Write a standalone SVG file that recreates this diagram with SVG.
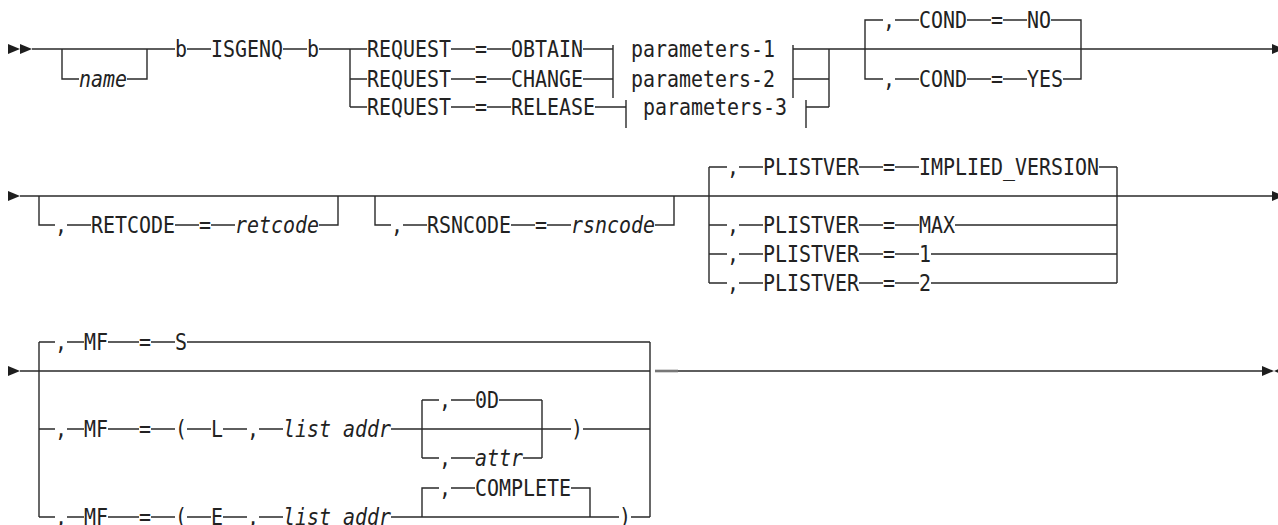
<svg xmlns="http://www.w3.org/2000/svg" width="1278" height="525" viewBox="0 0 1278 525">
<style>
.t{font-family:"DejaVu Sans Mono","Liberation Mono",monospace;font-size:22.5px;fill:#222}
.i{font-style:italic}
.c path{fill:none;stroke:#2a2a2a;stroke-width:1.4}
.a{fill:#1e1e1e}
</style>
<rect width="1278" height="525" fill="#fff"/>
<g id="connectors" class="c">
<path d="M32,49 H175 M62,49 V79 H79 M127,79 H147 V49 M187,49 H211 M283,49 H307 M319,49 H367 M350,49 V107 M350,79 H367 M350,107 H367"/>
<path d="M451,49 H475 M487,49 H511 M583,49 H613 M451,79 H475 M487,79 H511 M583,79 H613 M451,107 H475 M487,107 H511 M595,107 H626"/>
<path d="M613,45 V98 M626,100 V128 M793,45 V98 M806,100 V128"/>
<path d="M793,49 H1272 M793,79 H829 M806,107 H829 M829,49 V107"/>
<path d="M865,49 V20 H883 M895,20 H919 M967,20 H991 M1003,20 H1027 M1051,20 H1081 V79 H1063 M865,49 V79 H883 M895,79 H919 M967,79 H991 M1003,79 H1027"/>
<path d="M20,196 H1272"/>
<path d="M39,196 V225 H55 M67,225 H91 M175,225 H199 M211,225 H235 M319,225 H338 V196"/>
<path d="M375,196 V225 H391 M403,225 H427 M511,225 H535 M547,225 H571 M655,225 H674 V196"/>
<path d="M709,167 V283 M1117,167 V283 M709,167 H727 M739,167 H763 M859,167 H883 M895,167 H919 M1099,167 H1117 M709,225 H727 M739,225 H763 M859,225 H883 M895,225 H919 M955,225 H1117 M709,254 H727 M739,254 H763 M859,254 H883 M895,254 H919 M931,254 H1117 M709,283 H727 M739,283 H763 M859,283 H883 M895,283 H919 M931,283 H1117"/>
<path d="M20,371 H650 M655,371 H1262"/>
<path d="M655,371 H678" style="stroke:#777;stroke-width:2.6"/>
<path d="M39,342 V517 M650,342 V517"/>
<path d="M39,342 H55 M67,342 H84 M108,342 H139 M151,342 H175 M187,342 H650"/>
<path d="M39,429 H55 M67,429 H84 M108,429 H139 M151,429 H175 M187,429 H211 M223,429 H247 M259,429 H283 M391,429 H571 M583,429 H650"/>
<path d="M422,400 V458 M542,400 V458 M422,400 H439 M451,400 H475 M499,400 H542 M422,458 H439 M451,458 H475 M523,458 H542"/>
<path d="M39,517 H55 M67,517 H84 M108,517 H139 M151,517 H175 M187,517 H211 M223,517 H247 M259,517 H283 M391,517 H619 M631,517 H650"/>
<path d="M422,517 V488 H439 M451,488 H475 M571,488 H590 V517"/>
</g>
<g id="arrows" class="a">
<polygon points="8,44 20,49 8,54"/>
<polygon points="20,44 32,49 20,54"/>
<polygon points="1272,44 1284,49 1272,54"/>
<polygon points="8,191 20,196 8,201"/>
<polygon points="1272,191 1284,196 1272,201"/>
<polygon points="8,366 20,371 8,376"/>
<polygon points="1262,366 1274,371 1262,376"/>
<polygon points="1286,366 1274,371 1286,376"/>
</g>
<g id="name"><text class="t i" x="79" y="87" textLength="48" lengthAdjust="spacingAndGlyphs">name</text></g>
<g id="b1"><text class="t" x="175" y="57" textLength="12" lengthAdjust="spacingAndGlyphs">b</text></g>
<g id="isgenq"><text class="t" x="211" y="57" textLength="72" lengthAdjust="spacingAndGlyphs">ISGENQ</text></g>
<g id="b2"><text class="t" x="307" y="57" textLength="12" lengthAdjust="spacingAndGlyphs">b</text></g>
<g id="req-obtain"><text class="t" x="367" y="57" textLength="84" lengthAdjust="spacingAndGlyphs">REQUEST</text><text class="t" x="475" y="57" textLength="12" lengthAdjust="spacingAndGlyphs">=</text><text class="t" x="511" y="57" textLength="72" lengthAdjust="spacingAndGlyphs">OBTAIN</text></g>
<g id="req-change"><text class="t" x="367" y="87" textLength="84" lengthAdjust="spacingAndGlyphs">REQUEST</text><text class="t" x="475" y="87" textLength="12" lengthAdjust="spacingAndGlyphs">=</text><text class="t" x="511" y="87" textLength="72" lengthAdjust="spacingAndGlyphs">CHANGE</text></g>
<g id="req-release"><text class="t" x="367" y="115" textLength="84" lengthAdjust="spacingAndGlyphs">REQUEST</text><text class="t" x="475" y="115" textLength="12" lengthAdjust="spacingAndGlyphs">=</text><text class="t" x="511" y="115" textLength="84" lengthAdjust="spacingAndGlyphs">RELEASE</text></g>
<g id="params1"><text class="t" x="631" y="57" textLength="144" lengthAdjust="spacingAndGlyphs">parameters-1</text></g>
<g id="params2"><text class="t" x="631" y="87" textLength="144" lengthAdjust="spacingAndGlyphs">parameters-2</text></g>
<g id="params3"><text class="t" x="643" y="115" textLength="144" lengthAdjust="spacingAndGlyphs">parameters-3</text></g>
<g id="cond-no"><text class="t" x="883" y="28" textLength="12" lengthAdjust="spacingAndGlyphs">,</text><text class="t" x="919" y="28" textLength="48" lengthAdjust="spacingAndGlyphs">COND</text><text class="t" x="991" y="28" textLength="12" lengthAdjust="spacingAndGlyphs">=</text><text class="t" x="1027" y="28" textLength="24" lengthAdjust="spacingAndGlyphs">NO</text></g>
<g id="cond-yes"><text class="t" x="883" y="87" textLength="12" lengthAdjust="spacingAndGlyphs">,</text><text class="t" x="919" y="87" textLength="48" lengthAdjust="spacingAndGlyphs">COND</text><text class="t" x="991" y="87" textLength="12" lengthAdjust="spacingAndGlyphs">=</text><text class="t" x="1027" y="87" textLength="36" lengthAdjust="spacingAndGlyphs">YES</text></g>
<g id="retcode"><text class="t" x="55" y="233" textLength="12" lengthAdjust="spacingAndGlyphs">,</text><text class="t" x="91" y="233" textLength="84" lengthAdjust="spacingAndGlyphs">RETCODE</text><text class="t" x="199" y="233" textLength="12" lengthAdjust="spacingAndGlyphs">=</text><text class="t i" x="235" y="233" textLength="84" lengthAdjust="spacingAndGlyphs">retcode</text></g>
<g id="rsncode"><text class="t" x="391" y="233" textLength="12" lengthAdjust="spacingAndGlyphs">,</text><text class="t" x="427" y="233" textLength="84" lengthAdjust="spacingAndGlyphs">RSNCODE</text><text class="t" x="535" y="233" textLength="12" lengthAdjust="spacingAndGlyphs">=</text><text class="t i" x="571" y="233" textLength="84" lengthAdjust="spacingAndGlyphs">rsncode</text></g>
<g id="plv-implied"><text class="t" x="727" y="175" textLength="12" lengthAdjust="spacingAndGlyphs">,</text><text class="t" x="763" y="175" textLength="96" lengthAdjust="spacingAndGlyphs">PLISTVER</text><text class="t" x="883" y="175" textLength="12" lengthAdjust="spacingAndGlyphs">=</text><text class="t" x="919" y="175" textLength="180" lengthAdjust="spacingAndGlyphs">IMPLIED_VERSION</text></g>
<g id="plv-max"><text class="t" x="727" y="233" textLength="12" lengthAdjust="spacingAndGlyphs">,</text><text class="t" x="763" y="233" textLength="96" lengthAdjust="spacingAndGlyphs">PLISTVER</text><text class="t" x="883" y="233" textLength="12" lengthAdjust="spacingAndGlyphs">=</text><text class="t" x="919" y="233" textLength="36" lengthAdjust="spacingAndGlyphs">MAX</text></g>
<g id="plv-1"><text class="t" x="727" y="262" textLength="12" lengthAdjust="spacingAndGlyphs">,</text><text class="t" x="763" y="262" textLength="96" lengthAdjust="spacingAndGlyphs">PLISTVER</text><text class="t" x="883" y="262" textLength="12" lengthAdjust="spacingAndGlyphs">=</text><text class="t" x="919" y="262" textLength="12" lengthAdjust="spacingAndGlyphs">1</text></g>
<g id="plv-2"><text class="t" x="727" y="291" textLength="12" lengthAdjust="spacingAndGlyphs">,</text><text class="t" x="763" y="291" textLength="96" lengthAdjust="spacingAndGlyphs">PLISTVER</text><text class="t" x="883" y="291" textLength="12" lengthAdjust="spacingAndGlyphs">=</text><text class="t" x="919" y="291" textLength="12" lengthAdjust="spacingAndGlyphs">2</text></g>
<g id="mf-s"><text class="t" x="55" y="350" textLength="12" lengthAdjust="spacingAndGlyphs">,</text><text class="t" x="84" y="350" textLength="24" lengthAdjust="spacingAndGlyphs">MF</text><text class="t" x="139" y="350" textLength="12" lengthAdjust="spacingAndGlyphs">=</text><text class="t" x="175" y="350" textLength="12" lengthAdjust="spacingAndGlyphs">S</text></g>
<g id="mf-l"><text class="t" x="55" y="437" textLength="12" lengthAdjust="spacingAndGlyphs">,</text><text class="t" x="84" y="437" textLength="24" lengthAdjust="spacingAndGlyphs">MF</text><text class="t" x="139" y="437" textLength="12" lengthAdjust="spacingAndGlyphs">=</text><text class="t" x="175" y="437" textLength="12" lengthAdjust="spacingAndGlyphs">(</text><text class="t" x="211" y="437" textLength="12" lengthAdjust="spacingAndGlyphs">L</text><text class="t" x="247" y="437" textLength="12" lengthAdjust="spacingAndGlyphs">,</text><text class="t i" x="283" y="437" textLength="108" lengthAdjust="spacingAndGlyphs">list addr</text><text class="t" x="571" y="437" textLength="12" lengthAdjust="spacingAndGlyphs">)</text></g>
<g id="od"><text class="t" x="439" y="408" textLength="12" lengthAdjust="spacingAndGlyphs">,</text><text class="t" x="475" y="408" textLength="24" lengthAdjust="spacingAndGlyphs">0D</text></g>
<g id="attr"><text class="t" x="439" y="466" textLength="12" lengthAdjust="spacingAndGlyphs">,</text><text class="t i" x="475" y="466" textLength="48" lengthAdjust="spacingAndGlyphs">attr</text></g>
<g id="mf-e"><text class="t" x="55" y="524.5" textLength="12" lengthAdjust="spacingAndGlyphs">,</text><text class="t" x="84" y="524.5" textLength="24" lengthAdjust="spacingAndGlyphs">MF</text><text class="t" x="139" y="524.5" textLength="12" lengthAdjust="spacingAndGlyphs">=</text><text class="t" x="175" y="524.5" textLength="12" lengthAdjust="spacingAndGlyphs">(</text><text class="t" x="211" y="524.5" textLength="12" lengthAdjust="spacingAndGlyphs">E</text><text class="t" x="247" y="524.5" textLength="12" lengthAdjust="spacingAndGlyphs">,</text><text class="t i" x="283" y="524.5" textLength="108" lengthAdjust="spacingAndGlyphs">list addr</text><text class="t" x="619" y="524.5" textLength="12" lengthAdjust="spacingAndGlyphs">)</text></g>
<g id="complete"><text class="t" x="439" y="496" textLength="12" lengthAdjust="spacingAndGlyphs">,</text><text class="t" x="475" y="496" textLength="96" lengthAdjust="spacingAndGlyphs">COMPLETE</text></g>
</svg>
